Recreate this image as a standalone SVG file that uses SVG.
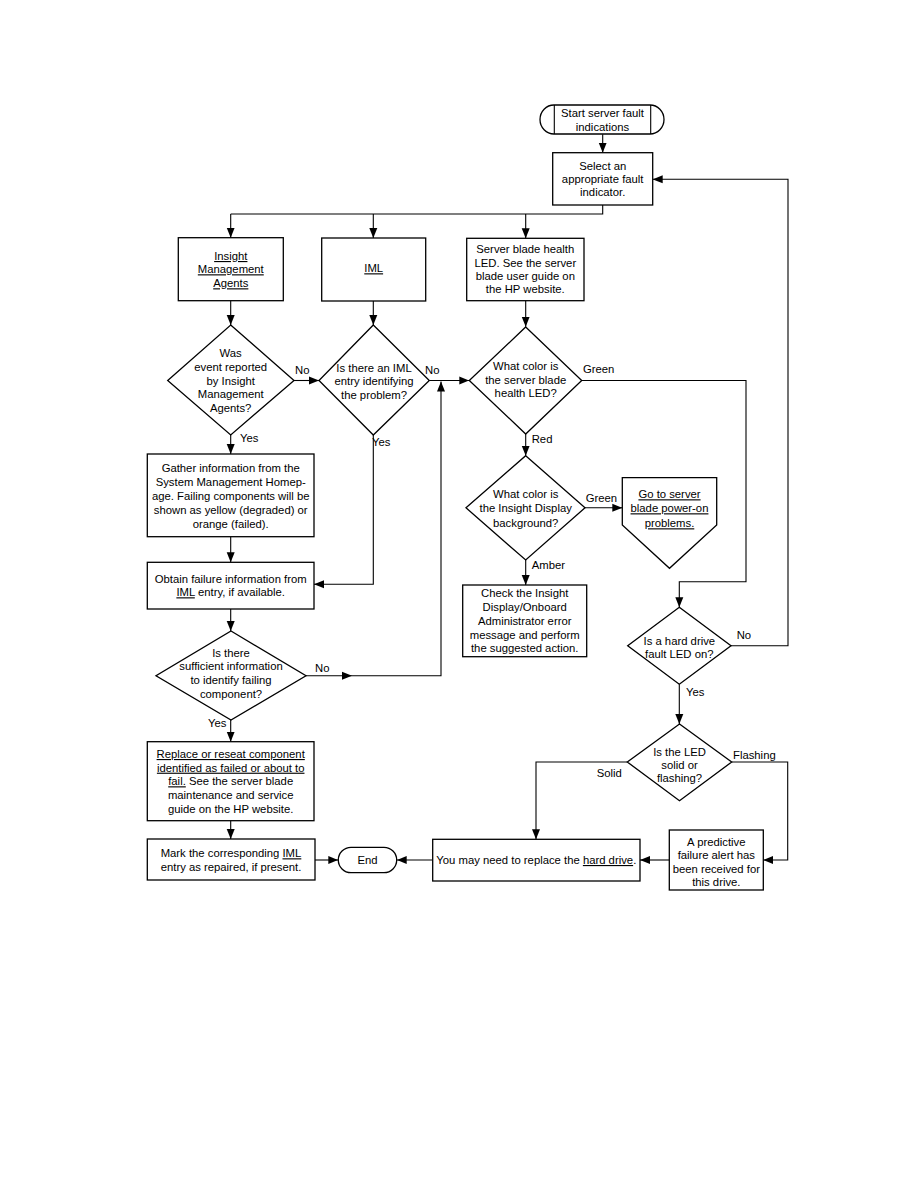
<svg xmlns="http://www.w3.org/2000/svg" width="918" height="1188" viewBox="0 0 918 1188">
<defs>
<marker id="ah" markerUnits="userSpaceOnUse" markerWidth="10" markerHeight="10" viewBox="0 0 10 10" refX="10" refY="5" orient="auto">
<path d="M0,1 L10,5 L0,9 Z" fill="#000"/>
</marker>
<style>
.n{fill:#fff;stroke:#000;stroke-width:1.3}
.c{fill:none;stroke:#000;stroke-width:1.1}
.a{marker-end:url(#ah)}
text{font-family:"Liberation Sans",Arial,sans-serif;font-size:11.3px;fill:#000}
.m{text-anchor:middle}
.u{text-decoration:underline}
</style>
</defs>
<rect width="918" height="1188" fill="#fff"/>
<g id="connectors">
<path class="c a" d="M602.7,134.3 V152.7"/>
<path class="c" d="M602.7,205 V214 H230.7"/>
<path class="c a" d="M230.7,214 V237.7"/>
<path class="c a" d="M373.3,214 V238"/>
<path class="c a" d="M525.7,214 V238.3"/>
<path class="c a" d="M230.7,300.7 V325"/>
<path class="c a" d="M373.3,301 V325"/>
<path class="c a" d="M525.7,300.7 V326.7"/>
<path class="c a" d="M294,380.5 H319"/>
<path class="c a" d="M429.3,380.5 H469.3"/>
<path class="c a" d="M230.7,435 V454"/>
<path class="c a" d="M230.7,536.7 V562.3"/>
<path class="c a" d="M373.3,433 V584.3 H314"/>
<path class="c a" d="M230.7,609 V631"/>
<path class="c a" d="M306,675.7 H352"/>
<path class="c a" d="M352,675.7 H441 V381.5"/>
<path class="c a" d="M230.7,720 V741.7"/>
<path class="c a" d="M230.7,820.7 V839"/>
<path class="c a" d="M315,860 H338.3"/>
<path class="c a" d="M432.7,860 H396.7"/>
<path class="c a" d="M525.7,433.5 V455.7"/>
<path class="c a" d="M581.7,380.5 H746 V581.7 H679.3 V607.3"/>
<path class="c a" d="M585,507.8 H622.3"/>
<path class="c a" d="M525.7,560 V585"/>
<path class="c a" d="M731,645.8 H788 V179.3 H652.7"/>
<path class="c a" d="M679.3,684.3 V724"/>
<path class="c a" d="M627.3,762 H536 V839.3"/>
<path class="c a" d="M731.7,762 H787.7 V860 H763.3"/>
<path class="c a" d="M669.3,860 H640"/>
</g>
<g id="start">
<rect class="n" x="540" y="105" width="124" height="29" rx="14" ry="14.5"/>
<path class="c" d="M554.3,105 V134 M650.7,105 V134"/>
<text class="m" x="602.5" y="117.3">Start server fault</text>
<text class="m" x="602.5" y="131.3">indications</text>
</g>
<g id="select">
<rect class="n" x="552.7" y="152.7" width="100" height="52.3"/>
<text class="m" x="602.7" y="169.7">Select an</text>
<text class="m" x="602.7" y="183">appropriate fault</text>
<text class="m" x="602.7" y="196.3">indicator.</text>
</g>
<g id="insight">
<rect class="n" x="178.3" y="237.7" width="105" height="63"/>
<text class="m u" x="230.8" y="260">Insight</text>
<text class="m u" x="230.8" y="273.3">Management</text>
<text class="m u" x="230.8" y="287.3">Agents</text>
</g>
<g id="iml">
<rect class="n" x="321.7" y="238" width="104" height="63"/>
<text class="m u" x="373.7" y="272.3">IML</text>
</g>
<g id="serverled">
<rect class="n" x="466.7" y="238.3" width="117.3" height="62.4"/>
<text class="m" x="525.3" y="253">Server blade health</text>
<text class="m" x="525.3" y="266.7">LED. See the server</text>
<text class="m" x="525.3" y="280">blade user guide on</text>
<text class="m" x="525.3" y="293.3">the HP website.</text>
</g>
<g id="d1">
<polygon class="n" points="230.7,325 294,380.5 230.7,435 167.7,380.5"/>
<text class="m" x="230.7" y="357.3">Was</text>
<text class="m" x="230.7" y="371.3">event reported</text>
<text class="m" x="230.7" y="385">by Insight</text>
<text class="m" x="230.7" y="398.3">Management</text>
<text class="m" x="230.7" y="411.7">Agents?</text>
<text x="295" y="374">No</text>
<text x="240" y="442.3">Yes</text>
</g>
<g id="d2">
<polygon class="n" points="373.3,325 429.3,380.5 373.3,435 319,380.5"/>
<text class="m" x="374" y="372.3">Is there an IML</text>
<text class="m" x="374" y="385.3">entry identifying</text>
<text class="m" x="374" y="398.7">the problem?</text>
<text x="425" y="374">No</text>
<text x="372" y="445.7">Yes</text>
</g>
<g id="d3">
<polygon class="n" points="525.7,327 581.7,380.5 525.7,434 469.3,380.5"/>
<text class="m" x="525.7" y="369.7">What color is</text>
<text class="m" x="525.7" y="384">the server blade</text>
<text class="m" x="525.7" y="397.3">health LED?</text>
<text x="583" y="373">Green</text>
<text x="531.7" y="443.3">Red</text>
</g>
<g id="d4">
<polygon class="n" points="525.7,455.7 585,507.8 525.7,560 466,507.8"/>
<text class="m" x="525.7" y="498">What color is</text>
<text class="m" x="525.7" y="512.3">the Insight Display</text>
<text class="m" x="525.7" y="526.7">background?</text>
<text x="585.7" y="501.7">Green</text>
<text x="531.7" y="569">Amber</text>
</g>
<g id="goto">
<polygon class="n" points="622.3,477.7 716.7,477.7 716.7,525 669.5,568.3 622.3,525"/>
<text class="m u" x="669.5" y="498.3">Go to server</text>
<text class="m u" x="669.5" y="512.3">blade power-on</text>
<text class="m u" x="669.5" y="527.3">problems.</text>
</g>
<g id="gather">
<rect class="n" x="147.3" y="454" width="166.7" height="82.7"/>
<text class="m" x="230.7" y="472.3">Gather information from the</text>
<text class="m" x="230.7" y="486.3">System Management Homep-</text>
<text class="m" x="230.7" y="499.7">age. Failing components will be</text>
<text class="m" x="230.7" y="514">shown as yellow (degraded) or</text>
<text class="m" x="230.7" y="528">orange (failed).</text>
</g>
<g id="obtain">
<rect class="n" x="147.3" y="562.3" width="166.7" height="46.7"/>
<text class="m" x="230.7" y="583.3">Obtain failure information from</text>
<text class="m" x="230.7" y="596.3"><tspan class="u">IML</tspan> entry, if available.</text>
</g>
<g id="check">
<rect class="n" x="462.7" y="585" width="124" height="71.7"/>
<text class="m" x="524.7" y="597.3">Check the Insight</text>
<text class="m" x="524.7" y="611">Display/Onboard</text>
<text class="m" x="524.7" y="624.7">Administrator error</text>
<text class="m" x="524.7" y="638.7">message and perform</text>
<text class="m" x="524.7" y="652">the suggested action.</text>
</g>
<g id="d5">
<polygon class="n" points="231,631 306,675.7 231,720 156,675.7"/>
<text class="m" x="231" y="656.7">Is there</text>
<text class="m" x="231" y="670">sufficient information</text>
<text class="m" x="231" y="683.7">to identify failing</text>
<text class="m" x="231" y="698">component?</text>
<text x="315" y="672">No</text>
<text x="208" y="727">Yes</text>
</g>
<g id="d6">
<polygon class="n" points="679.3,607.3 731,645.8 679.3,684.3 627.7,645.8"/>
<text class="m" x="679.3" y="644.7">Is a hard drive</text>
<text class="m" x="679.3" y="658">fault LED on?</text>
<text x="736.7" y="639">No</text>
<text x="686" y="695.7">Yes</text>
</g>
<g id="d7">
<polygon class="n" points="679.5,724 731.7,762 679.5,800.7 627.3,762"/>
<text class="m" x="679.5" y="755.7">Is the LED</text>
<text class="m" x="679.5" y="769">solid or</text>
<text class="m" x="679.5" y="782.3">flashing?</text>
<text x="596.7" y="777.3">Solid</text>
<text x="733" y="759">Flashing</text>
</g>
<g id="replace">
<rect class="n" x="147.3" y="741.7" width="166.7" height="79"/>
<text class="m" x="230.7" y="758"><tspan class="u">Replace or reseat component</tspan></text>
<text class="m" x="230.7" y="771.7"><tspan class="u">identified as failed or about to</tspan></text>
<text class="m" x="230.7" y="785.3"><tspan class="u">fail.</tspan> See the server blade</text>
<text class="m" x="230.7" y="799">maintenance and service</text>
<text class="m" x="230.7" y="812.7">guide on the HP website.</text>
</g>
<g id="mark">
<rect class="n" x="147.3" y="839" width="167.7" height="41"/>
<text class="m" x="231" y="857.3">Mark the corresponding <tspan class="u">IML</tspan></text>
<text class="m" x="231" y="870.7">entry as repaired, if present.</text>
</g>
<g id="end">
<rect class="n" x="338.3" y="847.3" width="58.4" height="25.4" rx="12.7"/>
<text class="m" x="367.5" y="864">End</text>
</g>
<g id="youmay">
<rect class="n" x="432.7" y="839.3" width="207.3" height="41.7"/>
<text class="m" x="536.3" y="864">You may need to replace the <tspan class="u">hard drive</tspan>.</text>
</g>
<g id="predictive">
<rect class="n" x="669.3" y="830" width="94" height="60"/>
<text class="m" x="716.3" y="845.7">A predictive</text>
<text class="m" x="716.3" y="859.3">failure alert has</text>
<text class="m" x="716.3" y="872.7">been received for</text>
<text class="m" x="716.3" y="886.3">this drive.</text>
</g>
</svg>
